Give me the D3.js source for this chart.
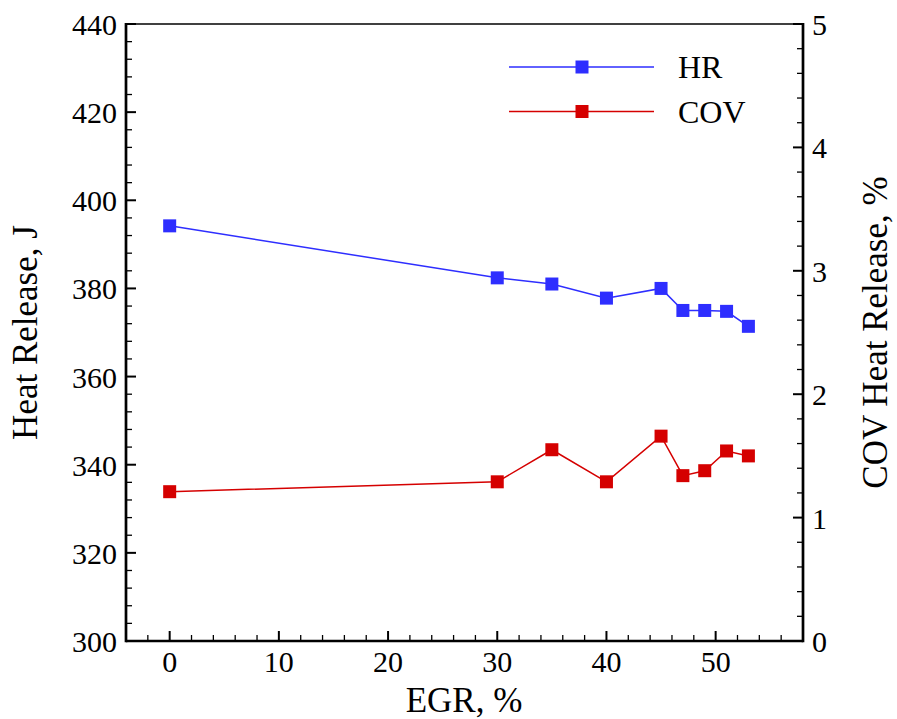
<!DOCTYPE html>
<html><head><meta charset="utf-8">
<script src="https://cdn.jsdelivr.net/npm/d3@7"></script>
<style>body{margin:0;background:#fff}svg{display:block}</style>
</head><body><svg id="c" width="897" height="719" font-family="'Liberation Serif', 'DejaVu Serif', serif"></svg>
<script>
const egr = [0, 30, 35, 40, 45, 47, 49, 51, 53];
const hr = [394.2, 382.4, 381.0, 377.8, 380.0, 375.0, 375.0, 374.8, 371.4];
const cov = [1.21, 1.29, 1.55, 1.29, 1.66, 1.34, 1.38, 1.54, 1.50];
const xTicks = [0, 10, 20, 30, 40, 50];
const yLeftTicks = [300, 320, 340, 360, 380, 400, 420, 440];
const yRightTicks = [0, 1, 2, 3, 4, 5];
const seriesNames = ["HR", "COV"];
const colors = ["#2e2eff", "#d50000"];

const FONT = "Liberation Serif";
const L = 126, R = 803, T = 24, B = 641;
const svg = d3.select("#c");
const x = d3.scaleLinear().domain([-4, 58]).range([L, R]);
const yL = d3.scaleLinear().domain([300, 440]).range([B, T]);
const yR = d3.scaleLinear().domain([0, 5]).range([B, T]);

const g = svg.append("g");
d3.range(-4, 58.01, 2).forEach(v => {
  const isMaj = Math.abs(v % 10) < 1e-9;
  g.append("line").attr("x1", x(v)).attr("x2", x(v)).attr("y1", B).attr("y2", B - (isMaj ? 10 : 6)).attr("stroke", "#000").attr("stroke-width", isMaj ? 2 : 1.3);
});
d3.range(300, 440.01, 4).forEach(v => {
  const isMaj = Math.abs(v % 20) < 1e-9;
  g.append("line").attr("x1", L).attr("x2", L + (isMaj ? 10 : 6)).attr("y1", yL(v)).attr("y2", yL(v)).attr("stroke", "#000").attr("stroke-width", isMaj ? 2 : 1.3);
});
d3.range(0, 5.001, 0.2).forEach(v => {
  const isMaj = Math.abs(v - Math.round(v)) < 1e-9;
  g.append("line").attr("x1", R).attr("x2", R - (isMaj ? 10 : 6)).attr("y1", yR(v)).attr("y2", yR(v)).attr("stroke", "#000").attr("stroke-width", isMaj ? 2 : 1.3);
});

svg.append("line").attr("x1", L).attr("x2", R).attr("y1", T).attr("y2", T).attr("stroke", "#000").attr("stroke-width", 1.6);
svg.append("line").attr("x1", L).attr("x2", R).attr("y1", B).attr("y2", B).attr("stroke", "#000").attr("stroke-width", 2.7);
svg.append("line").attr("x1", L).attr("x2", L).attr("y1", T - 1).attr("y2", B + 1.3).attr("stroke", "#000").attr("stroke-width", 2.7);
svg.append("line").attr("x1", R).attr("x2", R).attr("y1", T - 1).attr("y2", B + 1.3).attr("stroke", "#000").attr("stroke-width", 2.7);

function txt(xp, yp, s, size, anchor) {
  return svg.append("text").attr("x", xp).attr("y", yp).attr("text-anchor", anchor || "start")
    .attr("font-family", FONT).attr("font-size", size).attr("fill", "#000").text(s);
}
xTicks.forEach(v => txt(x(v), 672, v, 30, "middle"));
yLeftTicks.forEach(v => txt(117, yL(v) + 11, v, 30, "end"));
yRightTicks.forEach(v => txt(812, yR(v) + 11, v, 30, "start"));

txt(464, 712, "EGR, %", 35, "middle");
svg.append("text").attr("transform", `translate(37,${(T + B) / 2}) rotate(-90)`).attr("text-anchor", "middle")
  .attr("font-family", FONT).attr("font-size", 35).text("Heat Release, J");
svg.append("text").attr("transform", `translate(887,${(T + B) / 2}) rotate(-90)`).attr("text-anchor", "middle")
  .attr("font-family", FONT).attr("font-size", 35).text("COV Heat Release, %");

const data = [egr.map((e, i) => [e, hr[i]]), egr.map((e, i) => [e, cov[i]])];
const scales = [yL, yR];
data.forEach((d, k) => {
  const ys = scales[k];
  svg.append("path").datum(d).attr("fill", "none").attr("stroke", colors[k]).attr("stroke-width", 1.5)
    .attr("d", d3.line().x(p => x(p[0])).y(p => ys(p[1])));
  svg.selectAll(null).data(d).enter().append("rect")
    .attr("x", p => x(p[0]) - 6.5).attr("y", p => ys(p[1]) - 6.5).attr("width", 13).attr("height", 13).attr("fill", colors[k]);
});

seriesNames.forEach((n, k) => {
  const ly = 67 + k * 44.5;
  svg.append("line").attr("x1", 509).attr("x2", 654).attr("y1", ly).attr("y2", ly).attr("stroke", colors[k]).attr("stroke-width", 1.5);
  svg.append("rect").attr("x", 582 - 6.5).attr("y", ly - 6.5).attr("width", 13).attr("height", 13).attr("fill", colors[k]);
  txt(678, ly + 11, n, 32, "start");
});
</script></body></html>
